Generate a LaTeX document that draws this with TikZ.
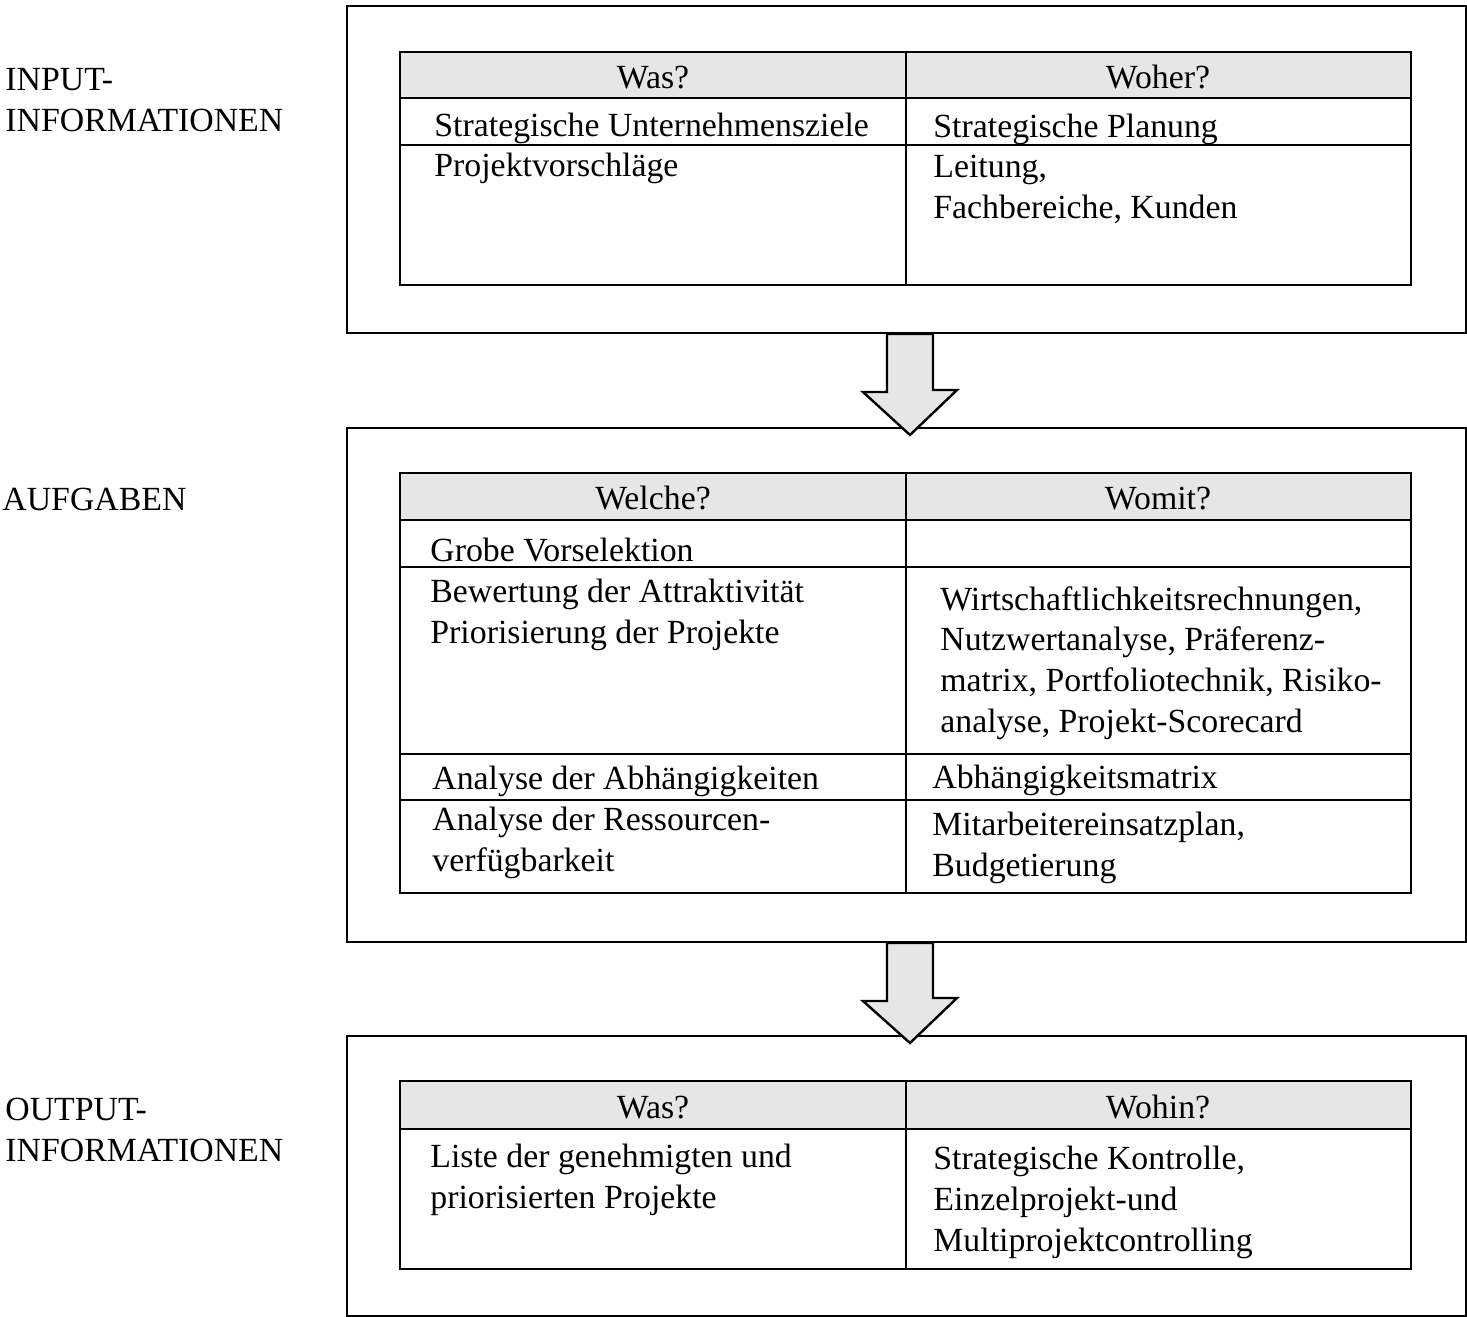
\documentclass[tikz,border=0pt]{standalone}
\usepackage{fontspec}
\setmainfont{Liberation Serif}
\usetikzlibrary{calc}
\definecolor{headgray}{RGB}{230,230,230}

\begin{document}
\begin{tikzpicture}[x=0.5pt, y=-0.5pt,
    frame/.style={draw, line width=1pt, minimum width=559.5pt, anchor=north west, inner sep=0pt},
    cell/.style={anchor=base west, inner sep=0pt, align=left, font=\fontsize{16.9}{20.3}\selectfont},
    head/.style={anchor=base, inner sep=0pt, font=\fontsize{16.9}{20.3}\selectfont},
    tab/.style={line width=1pt},
    blockarrow/.style={draw, line width=1.2pt, fill=headgray, line join=miter}]
    \useasboundingbox (0,0) rectangle (1467,1317);

    % Outer frames
    \node[frame, minimum height=163.5pt] (inbox) at (346,5) {};
    \node[frame, minimum height=257pt] (taskbox) at (346,427) {};
    \node[frame, minimum height=140pt] (outbox) at (346,1035) {};

    % Side labels (base = last line)
    \node[cell] (inlabel) at (5,131) {INPUT-\\INFORMATIONEN};
    \node[cell] (tasklabel) at (2,510) {AUFGABEN};
    \node[cell] (outlabel) at (5,1161) {OUTPUT-\\INFORMATIONEN};

    % Input table
    \fill[headgray] (400,52) rectangle (1411,98);
    \draw[tab] (400,52) rectangle (1411,285);
    \draw[tab] (906,52) -- (906,285);
    \draw[tab] (400,98) -- (1411,98) (400,145) -- (1411,145);
    \node[head] (inwas) at (653,88) {Was?};
    \node[head] (inwoher) at (1158,88) {Woher?};
    \node[cell] (ziele) at (434,136) {Strategische Unternehmensziele};
    \node[cell] (vorschlaege) at (434,176) {Projektvorschläge};
    \node[cell] (planung) at (933,137) {Strategische Planung};
    \node[cell] (leitung) at (933,218) {Leitung,\\Fachbereiche, Kunden};

    % Task table
    \fill[headgray] (400,473) rectangle (1411,520);
    \draw[tab] (400,473) rectangle (1411,893);
    \draw[tab] (906,473) -- (906,893);
    \draw[tab] (400,520) -- (1411,520) (400,567) -- (1411,567)
        (400,754) -- (1411,754) (400,800) -- (1411,800);
    \node[head] (welche) at (653,509) {Welche?};
    \node[head] (womit) at (1158,509) {Womit?};
    \node[cell] (vorselektion) at (430,561) {Grobe Vorselektion};
    \node[cell] (bewertung) at (430,643) {Bewertung der Attraktivität\\Priorisierung der Projekte};
    \node[cell] (methoden) at (940,732) {Wirtschaftlichkeitsrechnungen,\\Nutzwertanalyse, Präferenz-\\matrix, Portfoliotechnik, Risiko-\\analyse, Projekt-Scorecard};
    \node[cell] (abhaengig) at (432,789) {Analyse der Abhängigkeiten};
    \node[cell] (abhmatrix) at (932,788) {Abhängigkeitsmatrix};
    \node[cell] (ressourcen) at (432,871) {Analyse der Ressourcen-\\verfügbarkeit};
    \node[cell] (einsatz) at (932,876) {Mitarbeitereinsatzplan,\\Budgetierung};

    % Output table
    \fill[headgray] (400,1081) rectangle (1411,1129);
    \draw[tab] (400,1081) rectangle (1411,1269);
    \draw[tab] (906,1081) -- (906,1269);
    \draw[tab] (400,1129) -- (1411,1129);
    \node[head] (outwas) at (653,1118) {Was?};
    \node[head] (wohin) at (1158,1118) {Wohin?};
    \node[cell] (liste) at (430,1208) {Liste der genehmigten und\\priorisierten Projekte};
    \node[cell] (kontrolle) at (933,1251) {Strategische Kontrolle,\\Einzelprojekt-und\\Multiprojektcontrolling};

    % Block arrows between the frames
    \foreach \from/\to in {inbox/taskbox, taskbox/outbox}
        \draw[blockarrow] ($(\from.south)+(-19.5,0)$) -- ++(0,58) -- ++(-24,0)
            -- ($(\to.north)+(3.5,8)$) -- ++(47,-45) -- ++(-24,0) |- cycle;
\end{tikzpicture}
\end{document}
